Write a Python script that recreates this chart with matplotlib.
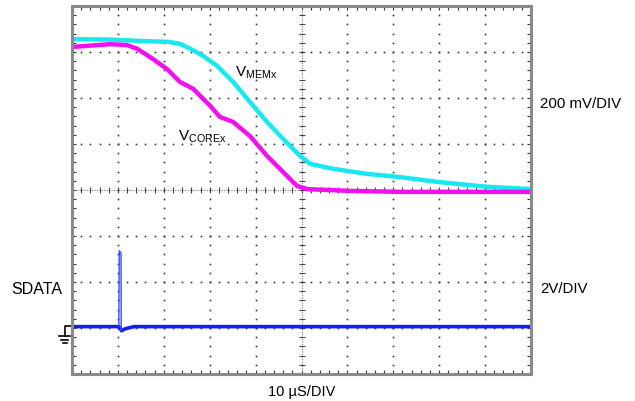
import numpy as np
import matplotlib
matplotlib.use("Agg")
import matplotlib.pyplot as plt

plt.rcParams['font.family'] = ['Liberation Sans', 'DejaVu Sans']
plt.rcParams['mathtext.fontset'] = 'custom'
plt.rcParams['mathtext.rm'] = 'Liberation Sans'

# traces in screen divisions (x: 0..10, y: 0..8)
mem_x = [0, 0.8, 1.5, 2.1, 2.35, 2.6, 2.85, 3.16, 3.51, 3.88, 4.25, 4.60, 4.97, 5.19, 5.69, 6.43, 7.15, 8.02, 9.04, 10]
mem_y = [7.28, 7.27, 7.24, 7.22, 7.18, 7.06, 6.92, 6.70, 6.35, 5.91, 5.48, 5.11, 4.74, 4.57, 4.46, 4.35, 4.28, 4.17, 4.07, 4.02]

core_x = [0, 0.83, 1.20, 1.42, 1.76, 2.07, 2.35, 2.64, 3.01, 3.22, 3.51, 3.88, 4.25, 4.60, 4.90, 5.12, 6.06, 7.15, 10]
core_y = [7.11, 7.17, 7.15, 7.07, 6.85, 6.63, 6.35, 6.20, 5.83, 5.59, 5.48, 5.17, 4.74, 4.39, 4.09, 4.02, 3.98, 3.96, 3.96]

sdata_x = [0, 1.02, 1.08, 1.15, 1.35, 10]
sdata_y = [1.03, 1.03, 0.94, 0.98, 1.03, 1.03]
spike_x = [1.02, 1.03, 1.068, 1.072]
spike_y = [1.03, 2.68, 2.63, 0.94]

fig = plt.figure(figsize=(6.35, 4.02), dpi=100)
ax = fig.add_axes([72/635, 1 - 375/402, 459/635, 368/402])
ax.set_xlim(0, 10)
ax.set_ylim(0, 8)

# graticule: dotted major lines, dots every 0.2 div
minor = np.arange(0, 10.01, 0.2)
minor_v = np.arange(0, 8.01, 0.2)
for gx in range(1, 10):
    if gx == 5:
        continue
    ax.plot([gx] * len(minor_v), minor_v, ls='none', marker='s', ms=1.2, color='#333333', mew=0)
for gy in range(1, 8):
    if gy == 4:
        continue
    ax.plot(minor, [gy] * len(minor), ls='none', marker='s', ms=1.2, color='#333333', mew=0)

# centre lines with small ticks
ax.plot([0, 10], [4, 4], ls=(0, (1, 1.2)), lw=0.8, color='#777777')
ax.plot([5, 5], [0, 8], ls=(0, (1, 1.2)), lw=0.8, color='#777777')
ax.plot(minor, [4] * len(minor), ls='none', marker='|', ms=5, mew=0.8, color='#444444')
ax.plot([5] * len(minor_v), minor_v, ls='none', marker='_', ms=5, mew=0.8, color='#444444')

# traces
ax.plot(mem_x, mem_y, color='#19e8f0', lw=3.2, solid_joinstyle='round')
ax.plot(core_x, core_y, color='#f010f0', lw=3.2, solid_joinstyle='round')
ax.plot(sdata_x, sdata_y, color='#1020f0', lw=2.6)
ax.plot(spike_x, spike_y, color='#3a4af0', lw=1.0)

# labels
ax.text(3.55, 6.50, r'V$_{\mathrm{MEMx}}$', fontsize=11, ha='left', va='baseline')
ax.text(2.31, 5.11, r'V$_{\mathrm{COREx}}$', fontsize=11, ha='left', va='baseline')
ax.text(10.2, 5.89, '200 mV/DIV', fontsize=10.8, ha='left', va='center', clip_on=False)
ax.text(10.2, 1.87, '2V/DIV', fontsize=10.8, ha='left', va='center', clip_on=False)
ax.text(-0.22, 1.85, 'SDATA', fontsize=11.5, ha='right', va='center', clip_on=False)
ax.text(5.0, -0.37, '10 µS/DIV', fontsize=10.5, ha='center', va='center', clip_on=False)

# ground marker
ax.plot([0, -0.153, -0.153], [1.043, 1.043, 0.826], color='black', lw=1.2, clip_on=False)
ax.plot([-0.283, -0.044], [0.826, 0.826], color='black', lw=1.2, clip_on=False)
ax.plot([-0.24, -0.087], [0.739, 0.739], color='black', lw=1.2, clip_on=False)
ax.plot([-0.196, -0.109], [0.674, 0.674], color='black', lw=1.2, clip_on=False)

# frame with inward ticks
ax.set_xticks(range(0, 11))
ax.set_yticks(range(0, 9))
ax.set_xticks(minor, minor=True)
ax.set_yticks(minor_v, minor=True)
ax.tick_params(which='both', direction='in', length=3, width=0.8, color='#333333',
               top=True, right=True, labelbottom=False, labelleft=False)
for s in ax.spines.values():
    s.set_color('#8a8a8a')
    s.set_linewidth(2.2)

fig.savefig('out.png', dpi=100)
